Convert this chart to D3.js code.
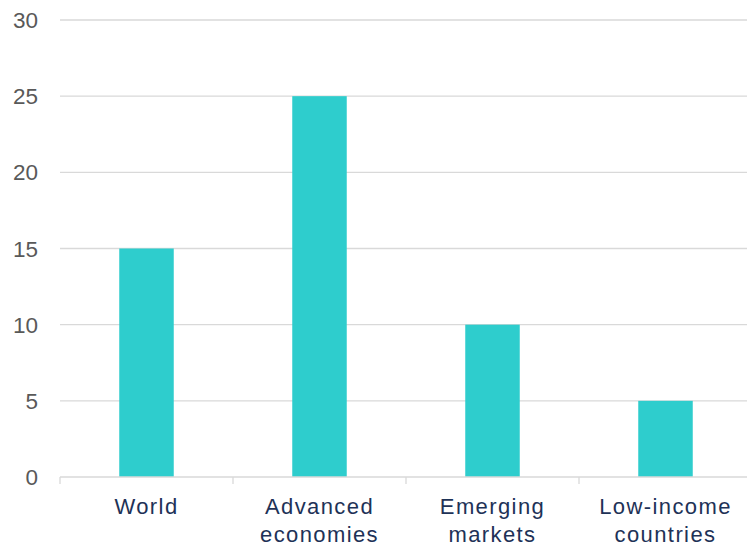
<!DOCTYPE html>
<html>
<head>
<meta charset="utf-8">
<script src="https://cdn.jsdelivr.net/npm/d3@7"></script>
<style>
  body { margin: 0; background: #fff; }
  text { font-family: "Liberation Sans", Arial, sans-serif; }
</style>
</head>
<body>
<svg width="747" height="545"></svg>
<script>
var categories = [["World"], ["Advanced", "economies"], ["Emerging", "markets"], ["Low-income", "countries"]];
var values = [15, 25, 10, 5];
var yTicks = [0, 5, 10, 15, 20, 25, 30];

var svg = d3.select("svg");

var x = d3.scaleBand()
    .domain(d3.range(categories.length))
    .range([60, 752]);

var y = d3.scaleLinear()
    .domain([0, 30])
    .range([477, 20]);

var barWidth = x.bandwidth() * 0.315;

// gridlines
svg.append("g")
    .selectAll("line")
    .data(yTicks.slice(1))
    .enter().append("line")
    .attr("x1", 60).attr("x2", 747)
    .attr("y1", function(d) { return y(d); })
    .attr("y2", function(d) { return y(d); })
    .attr("stroke", "#d9d9d9")
    .attr("stroke-width", 1.3);

// y labels
svg.append("g")
    .selectAll("text")
    .data(yTicks)
    .enter().append("text")
    .attr("x", 38)
    .attr("y", function(d) { return y(d); })
    .attr("dy", "0.36em")
    .attr("text-anchor", "end")
    .attr("fill", "#595959")
    .style("font-size", "22.5px")
    .text(function(d) { return d; });

// bars
svg.append("g")
    .selectAll("rect")
    .data(values)
    .enter().append("rect")
    .attr("x", function(d, i) { return x(i) + (x.bandwidth() - barWidth) / 2; })
    .attr("width", barWidth)
    .attr("y", function(d) { return y(d); })
    .attr("height", function(d) { return y(0) - y(d); })
    .attr("fill", "#2ecdcd");

// x axis line and ticks
svg.append("line")
    .attr("x1", 60).attr("x2", 747)
    .attr("y1", y(0)).attr("y2", y(0))
    .attr("stroke", "#d9d9d9")
    .attr("stroke-width", 1.3);

svg.append("g")
    .selectAll("line")
    .data(d3.range(categories.length))
    .enter().append("line")
    .attr("x1", function(d) { return x(d); })
    .attr("x2", function(d) { return x(d); })
    .attr("y1", y(0)).attr("y2", y(0) + 7)
    .attr("stroke", "#d9d9d9")
    .attr("stroke-width", 1.3);

// x labels
var labels = svg.append("g")
    .selectAll("text")
    .data(categories)
    .enter().append("text")
    .attr("x", function(d, i) { return x(i) + x.bandwidth() / 2; })
    .attr("y", 514)
    .attr("text-anchor", "middle")
    .attr("fill", "#1e3257")
    .style("font-size", "22px")
    .style("letter-spacing", "1.4px");

labels.selectAll("tspan")
    .data(function(d) { return d; })
    .enter().append("tspan")
    .attr("x", function() { return d3.select(this.parentNode).attr("x"); })
    .attr("dy", function(d, i) { return i == 0 ? 0 : 28; })
    .text(function(d) { return d; });
</script>
</body>
</html>
